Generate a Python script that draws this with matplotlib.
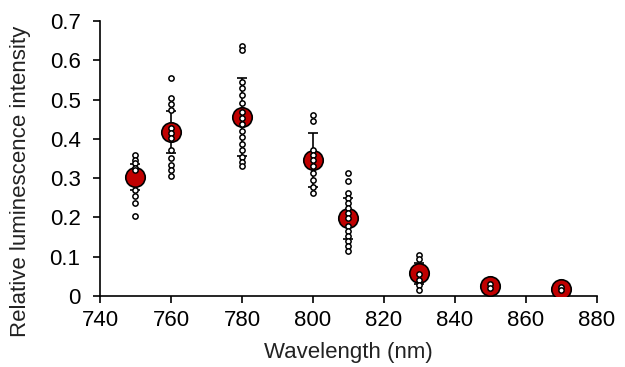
import matplotlib
matplotlib.use("Agg")
import matplotlib.pyplot as plt
from matplotlib.ticker import FuncFormatter

plt.rcParams['font.family'] = ['Liberation Sans', 'DejaVu Sans']

wavelengths = [750, 760, 780, 800, 810, 830, 850, 870]
means = [0.303, 0.417, 0.455, 0.346, 0.198, 0.058, 0.025, 0.017]
errors = [0.033, 0.053, 0.100, 0.069, 0.052, 0.027, 0.006, 0.004]

replicates = [
    [0.359, 0.346, 0.338, 0.326, 0.321, 0.270, 0.254, 0.237, 0.204],
    [0.555, 0.504, 0.489, 0.473, 0.427, 0.415, 0.402, 0.372, 0.351, 0.333, 0.321, 0.305],
    [0.636, 0.626, 0.545, 0.529, 0.511, 0.491, 0.468, 0.453, 0.438, 0.420,
     0.405, 0.387, 0.372, 0.354, 0.341, 0.331],
    [0.460, 0.445, 0.372, 0.359, 0.346, 0.331, 0.313, 0.295, 0.277, 0.262],
    [0.313, 0.293, 0.262, 0.249, 0.237, 0.224, 0.211, 0.198, 0.178, 0.165,
     0.153, 0.140, 0.127, 0.115],
    [0.104, 0.094, 0.056, 0.040, 0.028, 0.015],
    [0.030, 0.020],
    [0.022, 0.014],
]

fig = plt.figure(figsize=(6.25, 3.67), dpi=100)
ax = fig.add_axes([0.16, 0.1935, 0.795, 0.7495])

ax.errorbar(wavelengths, means, yerr=errors, fmt='none', ecolor='black',
            elinewidth=1.2, capsize=3.5, capthick=1.2, zorder=2)
ax.plot(wavelengths, means, 'o', color='#C00000', markersize=14,
        markeredgecolor='black', markeredgewidth=1.2, zorder=3)
for wl, vals in zip(wavelengths, replicates):
    ax.plot([wl] * len(vals), vals, 'o', markersize=3.8, markerfacecolor='white',
            markeredgecolor='black', markeredgewidth=1.1, zorder=4)

ax.set_xlim(740, 880)
ax.set_ylim(0, 0.7)
ax.set_xticks(range(740, 881, 20))
ax.set_yticks([0, 0.1, 0.2, 0.3, 0.4, 0.5, 0.6, 0.7])
ax.yaxis.set_major_formatter(FuncFormatter(lambda v, p: '%g' % round(v, 1)))
ax.spines['top'].set_visible(False)
ax.spines['right'].set_visible(False)
for s in ['left', 'bottom']:
    ax.spines[s].set_linewidth(1.2)
ax.tick_params(direction='out', length=5, width=1.2, labelsize=16, colors='black')
ax.tick_params(axis='x', pad=5)
ax.tick_params(axis='y', pad=9)
ax.set_xlabel('Wavelength (nm)', fontsize=16, labelpad=8, color='#222222')
ax.set_ylabel('Relative luminescence intensity', fontsize=16, color='#222222')
ax.yaxis.set_label_coords(-0.139, 0.418)

fig.savefig('out.png', dpi=100)
